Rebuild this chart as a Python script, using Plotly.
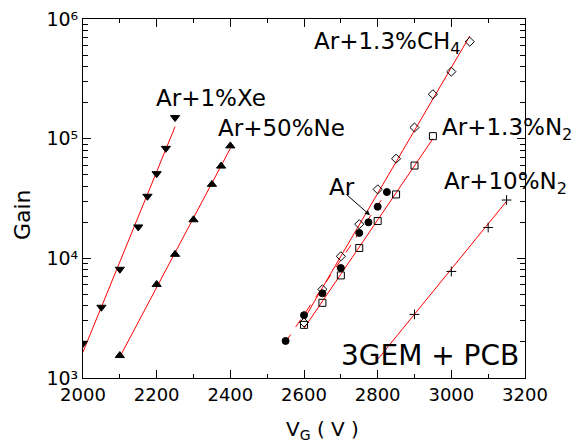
import plotly.graph_objects as go

# gain vs GEM voltage, triple GEM + PCB
xe_v = [2000, 2050, 2100, 2150, 2175, 2200, 2225, 2250]
xe_gain = [1.95e3, 3.9e3, 8.1e3, 1.83e4, 3.3e4, 5.1e4, 8.3e4, 1.5e5]

ne_v = [2100, 2200, 2250, 2300, 2350, 2375, 2400]
ne_gain = [1.54e3, 6.05e3, 1.08e4, 2.1e4, 4.15e4, 5.9e4, 8.7e4]

ar_v = [2550, 2600, 2650, 2700, 2750, 2775, 2800, 2825]
ar_gain = [2.04e3, 3.35e3, 5.1e3, 8.3e3, 1.63e4, 2.0e4, 2.7e4, 3.58e4]

ch4_v = [2600, 2650, 2700, 2750, 2800, 2850, 2900, 2950, 3000, 3050]
ch4_gain = [2.91e3, 5.5e3, 1.04e4, 1.93e4, 3.77e4, 6.8e4, 1.24e5, 2.35e5, 3.63e5, 6.46e5]

n2_v = [2600, 2650, 2700, 2750, 2800, 2850, 2900, 2950]
n2_gain = [2.78e3, 4.25e3, 7.2e3, 1.22e4, 2.05e4, 3.42e4, 5.96e4, 1.05e5]

n2_10_v = [2900, 3000, 3100, 3150]
n2_10_gain = [3.4e3, 7.77e3, 1.81e4, 3.07e4]

# fit lines (end points)
xe_fit_v, xe_fit_gain = [2000, 2250], [1.65e3, 1.26e5]
ne_fit_v, ne_fit_gain = [2100, 2400], [1.5e3, 8.3e4]
ar_fit_v, ar_fit_gain = [2550, 2825], [2.0e3, 3.6e4]
ch4_fit_v, ch4_fit_gain = [2600, 3050], [3.1e3, 7.2e5]
n2_fit_v, n2_fit_gain = [2600, 2950], [2.6e3, 1.0e5]
n2_10_fit_v, n2_10_fit_gain = [2800, 3150], [1.43e3, 3.0e4]

x_ticks = [2000, 2200, 2400, 2600, 2800, 3000, 3200]
y_ticks = [1e3, 1e4, 1e5, 1e6]
y_tick_text = ["10\u00b3", "10\u2074", "10\u2075", "10\u2076"]

FONT = "DejaVu Sans"

fig = go.Figure()

fits = [
    (xe_fit_v, xe_fit_gain, "solid"),
    (ne_fit_v, ne_fit_gain, "solid"),
    (ar_fit_v, ar_fit_gain, "dash"),
    (ch4_fit_v, ch4_fit_gain, "solid"),
    (n2_fit_v, n2_fit_gain, "solid"),
    (n2_10_fit_v, n2_10_fit_gain, "solid"),
]
for fv, fg, dash in fits:
    fig.add_trace(go.Scatter(x=fv, y=fg, mode="lines",
                             line=dict(color="red", width=1, dash=dash),
                             showlegend=False, hoverinfo="skip"))

points = [
    (xe_v, xe_gain, "triangle-down", 8),
    (ne_v, ne_gain, "triangle-up", 8),
    (ar_v, ar_gain, "circle", 7),
    (ch4_v, ch4_gain, "diamond-open", 7),
    (n2_v, n2_gain, "square-open", 7),
    (n2_10_v, n2_10_gain, "cross-thin-open", 7),
]
for pv, pg, sym, sz in points:
    fig.add_trace(go.Scatter(x=pv, y=pg, mode="markers",
                             marker=dict(symbol=sym, size=sz, color="black",
                                         line=dict(color="black", width=1)),
                             showlegend=False))

labels = [
    ("Ar+1%Xe", 2347, 5.339, 23),
    ("Ar+50%Ne", 2538, 5.089, 23),
    ("Ar+1.3%CH<sub>4</sub>", 2828, 5.80, 23),
    ("Ar+1.3%N<sub>2</sub>", 3151, 5.08, 23),
    ("Ar+10%N<sub>2</sub>", 3146, 4.629, 23),
    ("Ar", 2703, 4.60, 23),
    ("3GEM\u00a0+\u00a0PCB", 2943, 3.191, 28),
]
for txt, lx, ly, fs in labels:
    fig.add_annotation(x=lx, y=ly, text=txt, showarrow=False,
                       font=dict(family=FONT, size=fs, color="black"))

# arrow from the Ar label to its fit line
fig.add_annotation(x=2779, y=4.361, ax=-25, ay=-22, text="",
                   showarrow=True, arrowhead=2, arrowsize=1, arrowwidth=1,
                   arrowcolor="black")

# axis titles
fig.add_annotation(xref="paper", yref="paper", x=0.541, y=-0.145,
                   xanchor="center", yanchor="middle", text="V<sub>G</sub> ( V )",
                   showarrow=False, font=dict(family=FONT, size=20, color="black"))
fig.add_annotation(xref="paper", yref="paper", x=-0.138, y=0.454,
                   xanchor="center", yanchor="middle", text="Gain", textangle=-90,
                   showarrow=False, font=dict(family=FONT, size=22, color="black"))

# page body has an 8px margin, so size/margins are shifted to compensate
fig.update_layout(
    width=575,
    height=440,
    margin=dict(l=75, r=58, t=11, b=70),
    paper_bgcolor="white",
    plot_bgcolor="white",
    font=dict(family=FONT, size=18, color="black"),
    xaxis=dict(
        range=[2000, 3200],
        tickvals=x_ticks,
        automargin=False,
        ticklabeloverflow="allow",
        ticks="inside", ticklen=8, tickcolor="black",
        showline=True, linecolor="black", linewidth=1, mirror="allticks",
        showgrid=False, zeroline=False,
        minor=dict(ticks="inside", ticklen=4, dtick=100, tickcolor="black"),
    ),
    yaxis=dict(
        type="log",
        range=[3, 6],
        tickvals=y_ticks,
        ticktext=y_tick_text,
        tickfont=dict(size=19),
        automargin=False,
        ticklabeloverflow="allow",
        ticks="inside", ticklen=8, tickcolor="black",
        showline=True, linecolor="black", linewidth=1, mirror="allticks",
        showgrid=False, zeroline=False,
        minor=dict(ticks="inside", ticklen=5, dtick="D1", tickcolor="black"),
    ),
)

fig.write_html("out.html")
